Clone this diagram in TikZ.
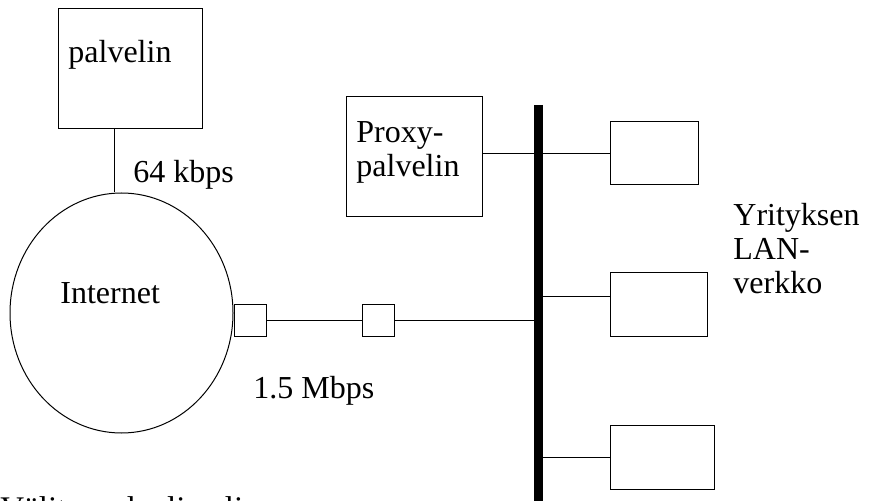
\documentclass[tikz,border=0pt]{standalone}
\usepackage{fontspec}
\setmainfont{Liberation Serif}
\usetikzlibrary{shapes, positioning, calc}

\begin{document}
\begin{tikzpicture}[x=0.5pt, y=-0.5pt,
    box/.style={draw, rectangle, line width=0.5pt, inner sep=0pt},
    lbl/.style={anchor=base west, inner sep=0pt, font=\fontsize{16}{17}\selectfont, align=left},
    wire/.style={line width=0.5pt}]
    \useasboundingbox (0,0) rectangle (871,501);
    \clip (0,0) rectangle (871,501);

    % Server, Internet and the access link
    \node[box, minimum width=72pt, minimum height=60pt] (palvelin) at (130,69) {};
    \node[draw, ellipse, line width=0.5pt, inner sep=0pt, minimum width=111.5pt, minimum height=120pt] (internet) at (121.5,313) {};
    \node[box, minimum size=16pt] (reuna) at (250,321) {};
    \node[box, minimum size=16pt] (yhdys) at (378,321) {};

    % LAN bus, proxy and the hosts
    \coordinate (busyla) at (538.5,105);
    \coordinate (busala) at (538.5,520);
    \node[box, minimum width=68pt, minimum height=60pt] (proxy) at (414,157) {};
    \node[box, minimum width=44pt, minimum height=31.5pt] (kone1) at (654,153.5) {};
    \node[box, minimum width=48.5pt, minimum height=32pt] (kone2) at (658.5,305) {};
    \node[box, minimum width=52pt, minimum height=32pt] (kone3) at (662,457) {};
    \coordinate (k2) at ([yshift=4pt]kone2.west);

    % Lines
    \draw[wire] ([xshift=-8pt]palvelin.south) -- ([xshift=-3.75pt]internet.north);
    \draw[wire] (reuna.east) -- (yhdys.west);
    \draw[wire] (yhdys.east) -- (yhdys.east -| busyla);
    \draw[wire] (kone1.west) -- (kone1.west -| proxy.east);
    \draw[wire] (k2) -- (k2 -| busyla);
    \draw[wire] (kone3.west) -- (kone3.west -| busyla);
    \draw[line width=4.5pt] (busyla) -- (busala);

    % Labels
    \node[lbl] (palvelintxt) at (68,63) {palvelin};
    \node[lbl] (kbps) at (133,183) {64 kbps};
    \node[lbl] (internettxt) at (60,304) {Internet};
    \node[lbl] (mbps) at (253,399) {1.5 Mbps};
    \node[lbl] (proxytxt) at (356,177) {Proxy-\\palvelin};
    \node[lbl] (lantxt) at (733,294) {Yrityksen\\LAN-\\verkko};
    \node[lbl, font=\fontsize{16.5}{18}\selectfont] (otsikko) at (0,519) {Välityspalvelin eli proxy};
\end{tikzpicture}
\end{document}
